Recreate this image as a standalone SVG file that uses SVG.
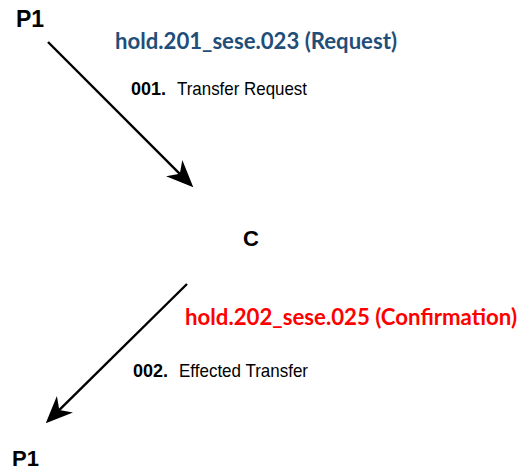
<svg xmlns="http://www.w3.org/2000/svg" width="522" height="470" viewBox="0 0 522 470">
  <style>
    .node { font-family: "Liberation Sans", Arial, sans-serif; font-weight: bold; fill: #000; }
    .msg { font-family: Lato, "Open Sans", sans-serif; font-weight: bold; font-size: 22.5px; }
    .num { font-family: "Liberation Sans", Arial, sans-serif; font-weight: bold; font-size: 18px; fill: #000; }
    .lbl { font-family: "Liberation Sans", Arial, sans-serif; font-size: 19px; fill: #000; }
    .flow { stroke: #000; stroke-width: 2.4; fill: none; marker-end: url(#head); }
  </style>
  <defs>
    <marker id="head" markerUnits="userSpaceOnUse" viewBox="0 0 27 23" refX="15" refY="11.5" markerWidth="27" markerHeight="23" orient="auto">
      <path d="M0,0 L27,11.5 L0,23 L8,11.5 Z" fill="#000"/>
    </marker>
  </defs>

  <g id="node-p1-sender">
    <text class="node" x="16" y="27" font-size="23">P1</text>
  </g>
  <g id="node-c">
    <text class="node" x="243" y="246" font-size="22">C</text>
  </g>
  <g id="node-p1-receiver">
    <text class="node" x="12" y="466" font-size="22">P1</text>
  </g>

  <g id="connectors">
    <g id="flow-001">
      <line class="flow" x1="48" y1="42" x2="184.8" y2="178.8"/>
      <text class="msg" x="115" y="49" fill="#1F4E79" textLength="282" lengthAdjust="spacingAndGlyphs">hold.201_sese.023 (Request)</text>
      <text class="num" x="131" y="95">001.</text>
      <text class="lbl" x="177" y="95" textLength="130" lengthAdjust="spacingAndGlyphs">Transfer Request</text>
    </g>
    <g id="flow-002">
      <line class="flow" x1="187" y1="284" x2="54.3" y2="414.8"/>
      <text class="msg" x="185" y="325" fill="#FF0000" textLength="332" lengthAdjust="spacingAndGlyphs">hold.202_sese.025 (Confirmation)</text>
      <text class="num" x="133" y="377">002.</text>
      <text class="lbl" x="179" y="377" textLength="129" lengthAdjust="spacingAndGlyphs">Effected Transfer</text>
    </g>
  </g>
</svg>
